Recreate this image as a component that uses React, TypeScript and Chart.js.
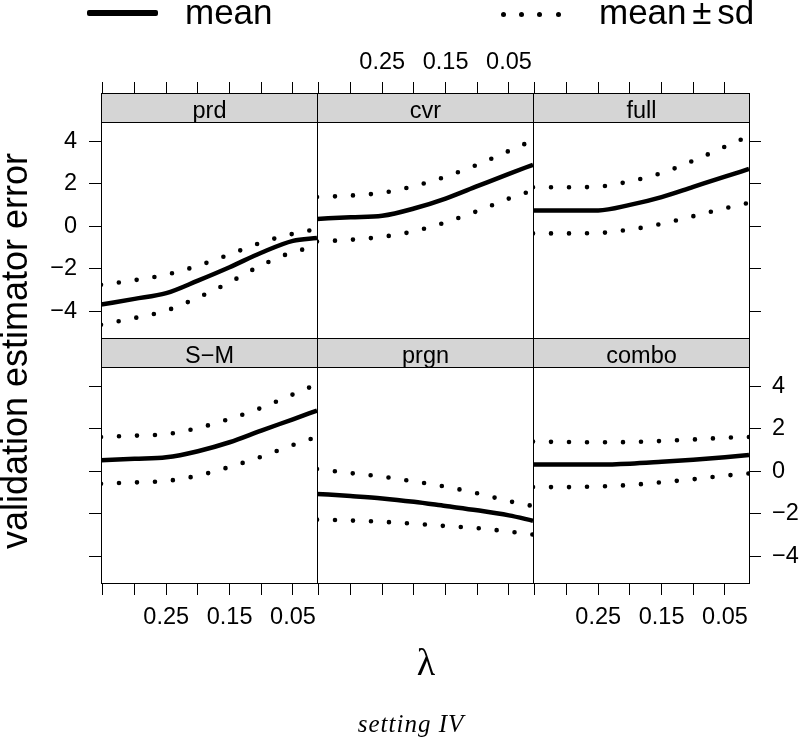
import React, { useEffect, useRef } from "react";
import { Chart, registerables } from "chart.js";

Chart.register(...registerables);

// ---------- data ----------
const LAMBDA = [0.353, 0.3, 0.25, 0.2, 0.15, 0.1, 0.05, 0.012];

const PANEL_NAMES = ["prd", "cvr", "full", "S\u2212M", "prgn", "combo"];

const PRD_MEAN = [-3.68, -3.41, -3.14, -2.55, -1.92, -1.24, -0.68, -0.55];
const PRD_UPPER = [-2.75, -2.53, -2.27, -1.85, -1.32, -0.76, -0.35, -0.12];
const PRD_LOWER = [-4.63, -4.31, -3.96, -3.35, -2.63, -1.83, -1.21, -0.95];

const CVR_MEAN = [0.35, 0.43, 0.5, 0.84, 1.31, 1.89, 2.47, 2.9];
const CVR_UPPER = [1.38, 1.45, 1.58, 1.89, 2.34, 2.9, 3.55, 4.05];
const CVR_LOWER = [-0.71, -0.63, -0.49, -0.23, 0.19, 0.72, 1.31, 1.7];

const FULL_MEAN = [0.75, 0.75, 0.75, 1.01, 1.38, 1.86, 2.34, 2.7];
const FULL_UPPER = [1.84, 1.84, 1.87, 2.12, 2.51, 3.09, 3.75, 4.25];
const FULL_LOWER = [-0.33, -0.33, -0.31, -0.15, 0.12, 0.48, 0.85, 1.11];

const SM_MEAN = [0.52, 0.59, 0.66, 0.95, 1.37, 1.92, 2.45, 2.86];
const SM_UPPER = [1.62, 1.68, 1.75, 2.04, 2.47, 2.99, 3.62, 4.1];
const SM_LOWER = [-0.58, -0.52, -0.45, -0.2, 0.21, 0.69, 1.24, 1.62];

const PRGN_MEAN = [-1.06, -1.16, -1.27, -1.43, -1.63, -1.83, -2.07, -2.32];
const PRGN_UPPER = [0.11, -0.08, -0.25, -0.47, -0.72, -1.03, -1.4, -1.63];
const PRGN_LOWER = [-2.27, -2.31, -2.37, -2.46, -2.57, -2.67, -2.83, -2.97];

const COMBO_MEAN = [0.32, 0.32, 0.32, 0.36, 0.45, 0.55, 0.67, 0.77];
const COMBO_UPPER = [1.4, 1.38, 1.37, 1.38, 1.43, 1.5, 1.58, 1.62];
const COMBO_LOWER = [-0.74, -0.74, -0.71, -0.64, -0.51, -0.37, -0.2, -0.1];

const X_TICKS = [0.35, 0.3, 0.25, 0.2, 0.15, 0.1, 0.05];
const X_LABELED = [0.25, 0.15, 0.05];
const Y_TICKS = [-4, -2, 0, 2, 4];

const X_MIN = 0.012;
const X_MAX = 0.353;
const Y_MIN = -5.25;
const Y_MAX = 4.91;

const LEGEND_MEAN = "mean";
const LEGEND_SD = "mean \u00b1 sd";
const Y_TITLE = "validation estimator error";
const X_TITLE = "\u03bb";
const SUBTITLE = "setting IV";

// ---------- layout ----------
const W = 800;
const H = 740;
const COL_LEFT = [101, 317, 533];
const ROW_TOP = [122, 367];
const PANEL_W = 216;
const PANEL_H = 216;
const STRIP_H = 29;
const Y_AXIS_W = 60;
const Y_AXIS_W_RIGHT = 51;
const X_AXIS_H = 80;
const STRIP_FILL = "#d5d5d5";
const SANS = "'Liberation Sans', Arial, Helvetica, sans-serif";
const SERIF = "'Liberation Serif', 'Times New Roman', serif";
const TICK_SIZE = 23.5;

const PANELS = [
  { name: PANEL_NAMES[0], mean: PRD_MEAN, upper: PRD_UPPER, lower: PRD_LOWER, row: 0, col: 0 },
  { name: PANEL_NAMES[1], mean: CVR_MEAN, upper: CVR_UPPER, lower: CVR_LOWER, row: 0, col: 1 },
  { name: PANEL_NAMES[2], mean: FULL_MEAN, upper: FULL_UPPER, lower: FULL_LOWER, row: 0, col: 2 },
  { name: PANEL_NAMES[3], mean: SM_MEAN, upper: SM_UPPER, lower: SM_LOWER, row: 1, col: 0 },
  { name: PANEL_NAMES[4], mean: PRGN_MEAN, upper: PRGN_UPPER, lower: PRGN_LOWER, row: 1, col: 1 },
  { name: PANEL_NAMES[5], mean: COMBO_MEAN, upper: COMBO_UPPER, lower: COMBO_LOWER, row: 1, col: 2 },
];

const fmtX = (v: number) => v.toFixed(2);
const fmtY = (v: number) => (v < 0 ? "\u2212" + Math.abs(v) : String(v));

const stripPlugin = (name: string) => ({
  id: "strip",
  afterDraw(chart: any) {
    const { ctx, chartArea: a } = chart;
    const l = Math.round(a.left) + 0.5;
    const r = Math.round(a.right) + 0.5;
    const t = Math.round(a.top) + 0.5;
    const b = Math.round(a.bottom) + 0.5;
    ctx.save();
    ctx.fillStyle = STRIP_FILL;
    ctx.fillRect(l, t - STRIP_H, r - l, STRIP_H);
    ctx.strokeStyle = "#000";
    ctx.lineWidth = 1;
    ctx.strokeRect(l, t - STRIP_H, r - l, STRIP_H);
    ctx.strokeRect(l, t, r - l, b - t);
    ctx.fillStyle = "#000";
    ctx.font = `${TICK_SIZE}px ${SANS}`;
    ctx.textAlign = "center";
    ctx.textBaseline = "alphabetic";
    ctx.fillText(name, (l + r) / 2, t - 5);
    ctx.restore();
  },
});

function Panel({ spec }: { spec: any }) {
  const ref = useRef<HTMLCanvasElement>(null);
  useEffect(() => {
    const { row, col } = spec;
    const left = COL_LEFT[col];
    const top = ROW_TOP[row];
    const right = left + PANEL_W;
    const bottom = top + PANEL_H;
    const hasY = col !== 1;
    const padding = {
      left: col === 0 ? left - Y_AXIS_W : left,
      right: col === 2 ? W - right - Y_AXIS_W_RIGHT : W - right,
      top: row === 0 ? top - X_AXIS_H : top,
      bottom: row === 1 ? H - bottom - X_AXIS_H : H - bottom,
    };
    const xLabels = row === 0 ? col === 1 : col !== 1;
    const yLabels = row === 0 ? col === 0 : col === 2;
    const pts = (arr: number[]) => LAMBDA.map((x, i) => ({ x, y: arr[i] }));
    const line = {
      borderColor: "#000",
      backgroundColor: "#000",
      pointRadius: 0,
      fill: false,
      cubicInterpolationMode: "monotone",
    };
    const yScale: any = {
      type: "linear",
      display: hasY,
      position: col === 2 ? "right" : "left",
      min: Y_MIN,
      max: Y_MAX,
      grid: { drawOnChartArea: false, drawTicks: true, tickLength: 12, color: "#000", lineWidth: 1 },
      border: { display: false },
      ticks: {
        autoSkip: false,
        padding: col === 2 ? 11 : 12,
        color: "#000",
        font: { family: SANS, size: TICK_SIZE },
        callback: (v: any) => (yLabels ? fmtY(Number(v)) : ""),
      },
      afterBuildTicks: (s: any) => {
        s.ticks = Y_TICKS.map((value) => ({ value }));
      },
    };
    if (hasY) {
      yScale.afterFit = (s: any) => {
        s.width = col === 2 ? Y_AXIS_W_RIGHT : Y_AXIS_W;
      };
    }
    const chart = new Chart(ref.current as HTMLCanvasElement, {
      type: "line",
      data: {
        datasets: [
          { ...line, label: "mean", data: pts(spec.mean), borderWidth: 4.5, borderCapStyle: "butt" },
          { ...line, label: "mean + sd", data: pts(spec.upper), borderWidth: 4.6, borderDash: [0, 18], borderCapStyle: "round" },
          { ...line, label: "mean \u2212 sd", data: pts(spec.lower), borderWidth: 4.6, borderDash: [0, 18], borderCapStyle: "round" },
        ] as any,
      },
      options: {
        responsive: false,
        animation: false,
        devicePixelRatio: 1,
        events: [],
        layout: { padding },
        plugins: { legend: { display: false }, tooltip: { enabled: false }, title: { display: false } },
        scales: {
          x: {
            type: "linear",
            position: row === 0 ? "top" : "bottom",
            min: X_MIN,
            max: X_MAX,
            reverse: true,
            grid: { drawOnChartArea: false, drawTicks: true, tickLength: row === 0 ? 40 : 12, color: "#000", lineWidth: 1 },
            border: { display: false },
            ticks: {
              autoSkip: false,
              maxRotation: 0,
              minRotation: 0,
              padding: row === 0 ? 5 : 8,
              color: "#000",
              font: { family: SANS, size: TICK_SIZE },
              callback: (v: any) => {
                const n = Number(v);
                return xLabels && X_LABELED.some((l) => Math.abs(l - n) < 1e-9) ? fmtX(n) : "";
              },
            },
            afterBuildTicks: (s: any) => {
              s.ticks = X_TICKS.map((value) => ({ value }));
            },
            afterFit: (s: any) => {
              s.height = X_AXIS_H;
            },
          } as any,
          y: yScale,
        },
      },
      plugins: [stripPlugin(spec.name)],
    });
    return () => chart.destroy();
  }, []);
  return (
    <canvas
      ref={ref}
      width={W}
      height={H}
      style={{ position: "absolute", left: 0, top: 0, width: W, height: H }}
    />
  );
}

function Text({ x, baseline, size, family, italic, align, children, extra }: any) {
  const asc = family === SERIF ? 0.891 : 0.905;
  const desc = family === SERIF ? 0.216 : 0.212;
  const top = baseline - (size * (1 - asc - desc)) / 2 - asc * size;
  const style: any = {
    position: "absolute",
    top,
    fontFamily: family,
    fontSize: size,
    lineHeight: `${size}px`,
    fontStyle: italic ? "italic" : "normal",
    whiteSpace: "nowrap",
    color: "#000",
    ...extra,
  };
  if (align === "center") {
    style.left = x - 300;
    style.width = 600;
    style.textAlign = "center";
  } else {
    style.left = x;
  }
  return <div style={style}>{children}</div>;
}

export default function App() {
  const dotXs = [503, 521.3, 539.7, 558];
  return (
    <div
      style={{
        position: "absolute",
        left: 0,
        top: 0,
        width: W,
        height: H,
        overflow: "hidden",
        background: "#fff",
      }}
    >
      {PANELS.map((p) => (
        <Panel key={p.name} spec={p} />
      ))}
      {/* legend */}
      <div
        style={{ position: "absolute", left: 87, top: 10.3, width: 71, height: 6, background: "#000", borderRadius: 2 }}
      />
      <Text x={185} baseline={23.3} size={35} family={SANS}>
        {LEGEND_MEAN}
      </Text>
      {dotXs.map((x) => (
        <div
          key={x}
          style={{ position: "absolute", left: x - 2.5, top: 11.5, width: 5, height: 5, borderRadius: "50%", background: "#000" }}
        />
      ))}
      <Text x={599} baseline={23.3} size={35} family={SANS} extra={{ wordSpacing: "-4px" }}>
        {LEGEND_SD}
      </Text>
      {/* y title */}
      <div
        style={{
          position: "absolute",
          left: 15 - 300,
          top: 351 - 20,
          width: 600,
          height: 40,
          lineHeight: "40px",
          fontFamily: SANS,
          fontSize: 36,
          textAlign: "center",
          whiteSpace: "nowrap",
          transform: "rotate(-90deg)",
          transformOrigin: "50% 50%",
          color: "#000",
        }}
      >
        {Y_TITLE}
      </div>
      <Text x={426} baseline={675} size={38} family={SERIF} align="center">
        {X_TITLE}
      </Text>
      <Text x={411} baseline={732} size={25} family={SERIF} italic align="center" extra={{ letterSpacing: "1px" }}>
        {SUBTITLE}
      </Text>
    </div>
  );
}
